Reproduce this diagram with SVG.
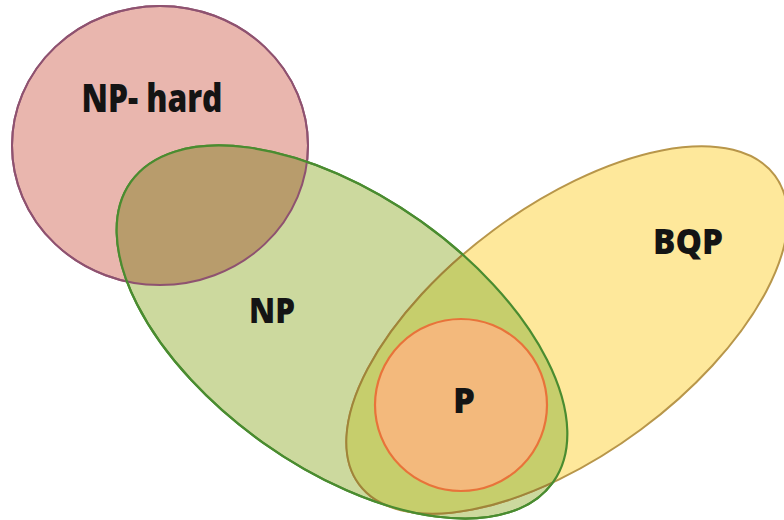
<svg xmlns="http://www.w3.org/2000/svg" xmlns:xlink="http://www.w3.org/1999/xlink" width="784" height="520" viewBox="0 0 784 520">
  <style>
    .lbl { font-family: "Open Sans", "Liberation Sans", sans-serif; font-weight: 800; fill: #141414; text-anchor: middle; }
    .outline { fill: none; }
  </style>
  <defs>
    <ellipse id="shape-nphard" cx="160" cy="145.5" rx="148" ry="139.5"/>
    <ellipse id="shape-np" cx="342" cy="332" rx="259" ry="136" transform="rotate(35.4 342 332)"/>
    <ellipse id="shape-bqp" cx="567" cy="330" rx="259" ry="124" transform="rotate(-36.6 567 330)"/>
    <clipPath id="clip-nphard"><use xlink:href="#shape-nphard"/></clipPath>
    <clipPath id="clip-np"><use xlink:href="#shape-np"/></clipPath>
  </defs>
  <rect width="784" height="520" fill="#ffffff"/>

  <g id="np-hard">
    <use xlink:href="#shape-nphard" fill="#E9B6AE" stroke="#9B5B78" stroke-width="2"/>
    <text class="lbl" x="152" y="112" font-size="38" textLength="141" lengthAdjust="spacingAndGlyphs">NP- hard</text>
  </g>

  <g id="np">
    <use xlink:href="#shape-np" fill="#CCD99E" stroke="#4A8C30" stroke-width="2.2"/>
    <text class="lbl" x="272" y="323" font-size="36" textLength="46" lengthAdjust="spacingAndGlyphs">NP</text>
  </g>

  <g id="bqp">
    <use xlink:href="#shape-bqp" fill="#FEE89B" stroke="#B8964A" stroke-width="2"/>
    <text class="lbl" x="688" y="254" font-size="36" textLength="70" lengthAdjust="spacingAndGlyphs">BQP</text>
  </g>

  <g id="overlaps">
    <use xlink:href="#shape-np" fill="#B89C6C" clip-path="url(#clip-nphard)"/>
    <use xlink:href="#shape-bqp" fill="#C6CE6C" clip-path="url(#clip-np)"/>
    <use xlink:href="#shape-nphard" class="outline" stroke="#8E5270" stroke-width="2"/>
    <use xlink:href="#shape-bqp" class="outline" stroke="#A0843A" stroke-width="2" clip-path="url(#clip-np)"/>
    <use xlink:href="#shape-np" class="outline" stroke="#4A8C30" stroke-width="2.2"/>
  </g>

  <g id="p">
    <circle cx="461" cy="405" r="86" fill="#F3B97C" stroke="#E8733A" stroke-width="2.2"/>
    <text class="lbl" x="464" y="413" font-size="36" textLength="22" lengthAdjust="spacingAndGlyphs">P</text>
  </g>
</svg>
